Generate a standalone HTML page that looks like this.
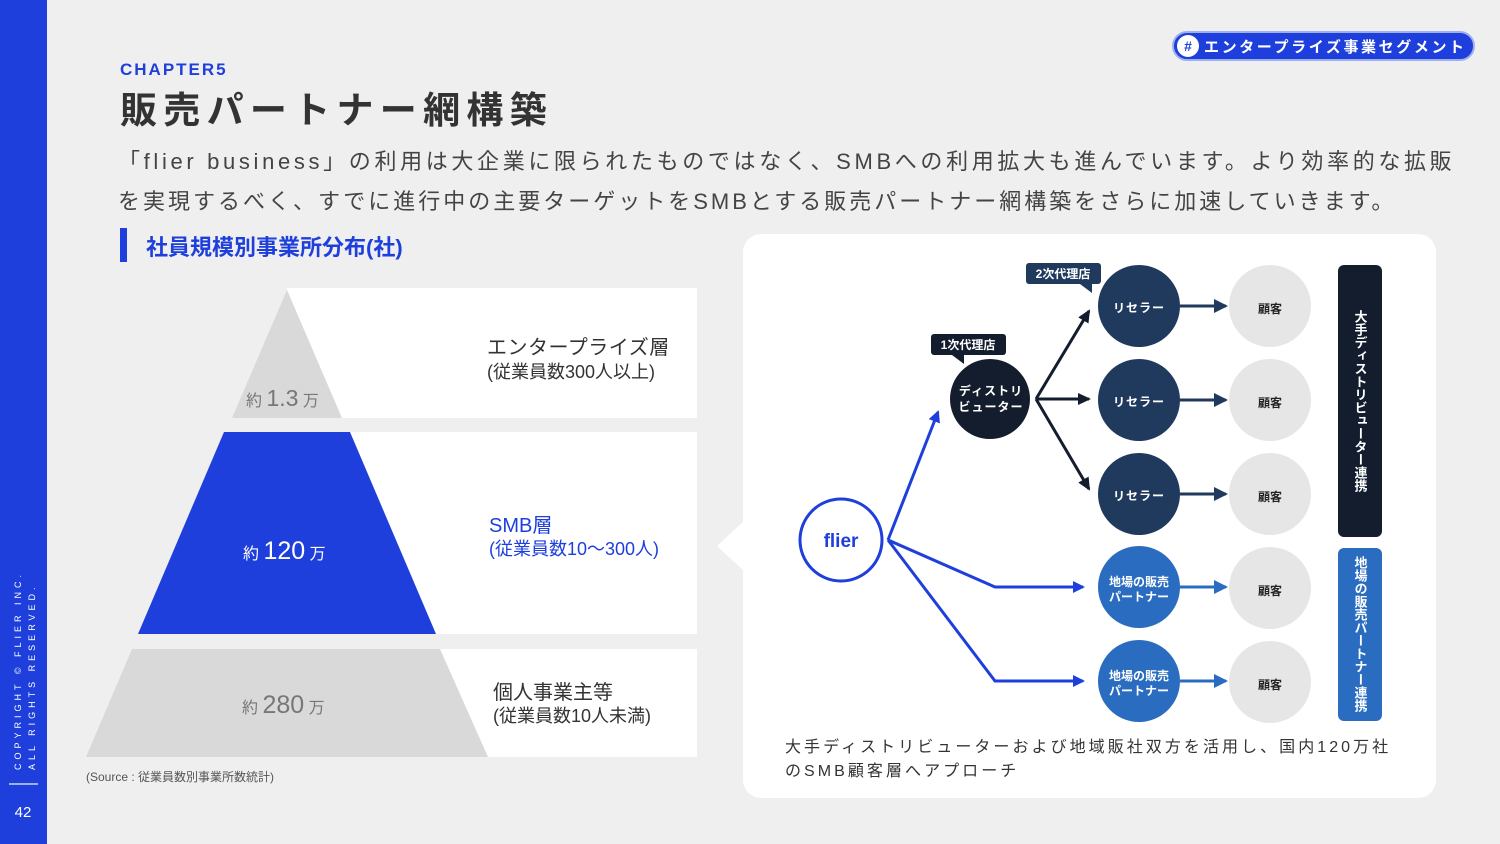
<!DOCTYPE html>
<html><head><meta charset="utf-8"><style>
body{margin:0;width:1500px;height:844px;overflow:hidden;background:#efefef;font-family:"Liberation Sans","Noto Sans CJK JP",sans-serif;}
</style></head><body>
<svg width="1500" height="844" xmlns="http://www.w3.org/2000/svg" font-family="Liberation Sans, Noto Sans CJK JP, sans-serif" style="display:block">
<defs>
<marker id="ad" markerWidth="14" markerHeight="14" refX="11" refY="7" orient="auto" markerUnits="userSpaceOnUse"><path d="M0,1 L13,7 L0,13z" fill="#131d2e"/></marker>
<marker id="ab" markerWidth="12" markerHeight="12" refX="10" refY="6" orient="auto" markerUnits="userSpaceOnUse"><path d="M0,0 L12,6 L0,12z" fill="#1e3fdc"/></marker>
<marker id="an" markerWidth="14" markerHeight="14" refX="12" refY="7" orient="auto" markerUnits="userSpaceOnUse"><path d="M0,0 L14,7 L0,14z" fill="#203a5e"/></marker>
<marker id="al" markerWidth="14" markerHeight="14" refX="12" refY="7" orient="auto" markerUnits="userSpaceOnUse"><path d="M0,0 L14,7 L0,14z" fill="#2a6cc0"/></marker>
</defs>
<rect x="0" y="0" width="47" height="844" fill="#1e3fdc"/>
<text transform="translate(21,770) rotate(-90)" font-size="9" fill="#fff" letter-spacing="4">COPYRIGHT © FLIER INC.</text>
<text transform="translate(35,770) rotate(-90)" font-size="9" fill="#fff" letter-spacing="4">ALL RIGHTS RESERVED.</text>
<rect x="9" y="783" width="29" height="2" fill="#9fb0ee"/>
<text x="23" y="817" font-size="15" fill="#fff" text-anchor="middle">42</text>

<rect x="1173" y="32" width="301" height="28" rx="14" fill="#1e3fdc" stroke="#9fb0ee" stroke-width="2"/>
<circle cx="1188" cy="46" r="11" fill="#fff"/>
<text x="1188" y="51" font-size="14" font-weight="bold" fill="#1e3fdc" text-anchor="middle">#</text>
<text x="1204" y="52" font-size="15" font-weight="bold" fill="#fff" letter-spacing="2.6">エンタープライズ事業セグメント</text>

<text x="120" y="75" font-size="17" font-weight="bold" fill="#1e3fdc" letter-spacing="2">CHAPTER5</text>
<text x="120" y="123" font-size="37" font-weight="bold" fill="#333" letter-spacing="6.3">販売パートナー網構築</text>
<text x="118" y="169" font-size="22" fill="#444" letter-spacing="3.65">「flier business」の利用は大企業に限られたものではなく、SMBへの利用拡大も進んでいます。より効率的な拡販</text>
<text x="118" y="209" font-size="22" fill="#444" letter-spacing="3.0">を実現するべく、すでに進行中の主要ターゲットをSMBとする販売パートナー網構築をさらに加速していきます。</text>
<rect x="120" y="228" width="7" height="34" fill="#1e3fdc"/>
<text x="146" y="255" font-size="22" font-weight="bold" fill="#1e3fdc">社員規模別事業所分布(社)</text>

<rect x="287" y="288" width="410" height="130" fill="#fff"/>
<rect x="350" y="432" width="347" height="202" fill="#fff"/>
<rect x="440" y="649" width="257" height="108" fill="#fff"/>
<polygon points="287,290 342,418 232,418" fill="#d9d9d9"/>
<polygon points="224,432 350,432 436,634 138,634" fill="#1e3fdc"/>
<polygon points="132,649 440,649 488,757 86,757" fill="#d9d9d9"/>
<text x="246" y="406" font-size="16" fill="#777">約 <tspan font-size="23">1.3</tspan> 万</text>
<text x="243" y="559" font-size="16" fill="#fff">約 <tspan font-size="25">120</tspan> 万</text>
<text x="242" y="713" font-size="16" fill="#777">約 <tspan font-size="25">280</tspan> 万</text>
<text x="487" y="354" font-size="20" fill="#333" letter-spacing="0.5">エンタープライズ層</text>
<text x="487" y="378" font-size="18" fill="#333">(従業員数300人以上)</text>
<text x="489" y="532" font-size="20" fill="#1e3fdc">SMB層</text>
<text x="489" y="555" font-size="18" fill="#1e3fdc">(従業員数10〜300人)</text>
<text x="493" y="699" font-size="20" fill="#333">個人事業主等</text>
<text x="493" y="722" font-size="18" fill="#333">(従業員数10人未満)</text>
<text x="86" y="781" font-size="12" fill="#555">(Source : 従業員数別事業所数統計)</text>

<rect x="743" y="234" width="693" height="564" rx="18" fill="#fff"/>
<polygon points="745,520 717,546 745,572" fill="#fff"/>

<circle cx="841" cy="540" r="41" fill="#fff" stroke="#1e3fdc" stroke-width="3"/>
<text x="841" y="547" font-size="19" font-weight="bold" fill="#1e3fdc" text-anchor="middle">flier</text>
<polyline points="888,540 938,412" fill="none" stroke="#1e3fdc" stroke-width="3" marker-end="url(#ab)"/>
<polyline points="888,540 995,587 1083,587" fill="none" stroke="#1e3fdc" stroke-width="3" marker-end="url(#ab)"/>
<polyline points="888,540 995,681 1083,681" fill="none" stroke="#1e3fdc" stroke-width="3" marker-end="url(#ab)"/>

<circle cx="990" cy="399" r="40" fill="#131d2e"/>
<text x="991" y="395" font-size="12" font-weight="bold" fill="#fff" text-anchor="middle" letter-spacing="1">ディストリ</text>
<text x="991" y="411" font-size="12" font-weight="bold" fill="#fff" text-anchor="middle" letter-spacing="1">ビューター</text>
<rect x="931" y="334" width="75" height="21" rx="3" fill="#131d2e"/>
<polygon points="952,355 964,355 964,364" fill="#131d2e"/>
<text x="968" y="349" font-size="12" font-weight="bold" fill="#fff" text-anchor="middle">1次代理店</text>
<rect x="1026" y="263" width="75" height="21" rx="3" fill="#203a5e"/>
<polygon points="1080,284 1092,284 1092,293" fill="#203a5e"/>
<text x="1063" y="278" font-size="12" font-weight="bold" fill="#fff" text-anchor="middle">2次代理店</text>

<g stroke="#131d2e" stroke-width="3" fill="none">
<line x1="1036" y1="399" x2="1089" y2="311" marker-end="url(#ad)"/>
<line x1="1036" y1="399" x2="1089" y2="399" marker-end="url(#ad)"/>
<line x1="1036" y1="399" x2="1089" y2="489" marker-end="url(#ad)"/>
</g>

<g font-size="12" font-weight="bold" text-anchor="middle">
<circle cx="1139" cy="306" r="41" fill="#203a5e"/><text x="1139" y="312" fill="#fff" letter-spacing="1">リセラー</text>
<circle cx="1139" cy="400" r="41" fill="#203a5e"/><text x="1139" y="406" fill="#fff" letter-spacing="1">リセラー</text>
<circle cx="1139" cy="494" r="41" fill="#203a5e"/><text x="1139" y="500" fill="#fff" letter-spacing="1">リセラー</text>
<circle cx="1139" cy="587" r="41" fill="#2a6cc0"/><text x="1139" y="586" fill="#fff">地場の販売</text><text x="1139" y="601" fill="#fff">パートナー</text>
<circle cx="1139" cy="681" r="41" fill="#2a6cc0"/><text x="1139" y="680" fill="#fff">地場の販売</text><text x="1139" y="695" fill="#fff">パートナー</text>
<g stroke-width="3">
<line x1="1180" y1="306" x2="1226" y2="306" stroke="#203a5e" marker-end="url(#an)"/>
<line x1="1180" y1="400" x2="1226" y2="400" stroke="#203a5e" marker-end="url(#an)"/>
<line x1="1180" y1="494" x2="1226" y2="494" stroke="#203a5e" marker-end="url(#an)"/>
<line x1="1180" y1="587" x2="1226" y2="587" stroke="#2a6cc0" marker-end="url(#al)"/>
<line x1="1180" y1="681" x2="1226" y2="681" stroke="#2a6cc0" marker-end="url(#al)"/>
</g>
<circle cx="1270" cy="306" r="41" fill="#e6e6e6"/><text x="1270" y="313" fill="#222">顧客</text>
<circle cx="1270" cy="400" r="41" fill="#e6e6e6"/><text x="1270" y="407" fill="#222">顧客</text>
<circle cx="1270" cy="494" r="41" fill="#e6e6e6"/><text x="1270" y="501" fill="#222">顧客</text>
<circle cx="1270" cy="588" r="41" fill="#e6e6e6"/><text x="1270" y="595" fill="#222">顧客</text>
<circle cx="1270" cy="682" r="41" fill="#e6e6e6"/><text x="1270" y="689" fill="#222">顧客</text>
</g>

<rect x="1338" y="265" width="44" height="272" rx="6" fill="#131d2e"/>
<text x="1360" y="310" font-size="13" font-weight="bold" fill="#fff" style="writing-mode:vertical-rl;text-orientation:upright" letter-spacing="0">大手ディストリビューター連携</text>
<rect x="1338" y="548" width="44" height="173" rx="6" fill="#2a6cc0"/>
<text x="1360" y="556" font-size="13" font-weight="bold" fill="#fff" style="writing-mode:vertical-rl;text-orientation:upright" letter-spacing="0">地場の販売パートナー連携</text>

<text x="785" y="752" font-size="16" fill="#333" letter-spacing="3.05">大手ディストリビューターおよび地域販社双方を活用し、国内120万社</text>
<text x="785" y="776" font-size="16" fill="#333" letter-spacing="3.05">のSMB顧客層へアプローチ</text>
</svg>
</body></html>
